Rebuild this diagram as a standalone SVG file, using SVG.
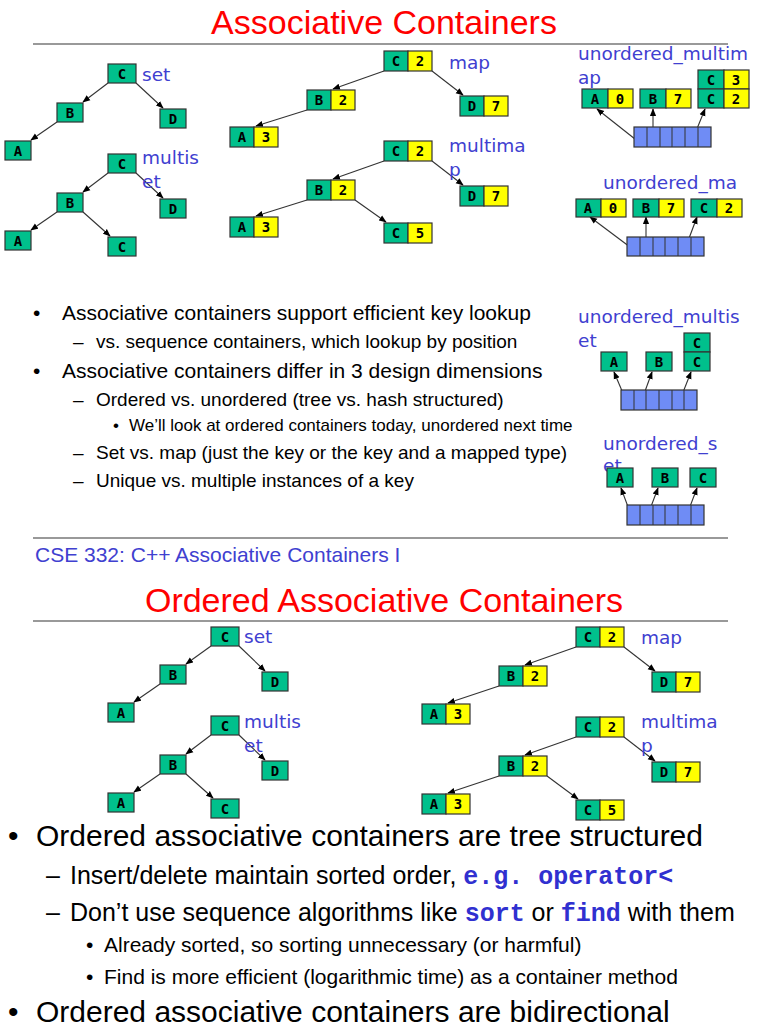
<svg xmlns="http://www.w3.org/2000/svg" width="768" height="1024" viewBox="0 0 768 1024">
<style>
.g{fill:#00c08c;stroke:#333;stroke-width:1.2}
.y{fill:#ffff00;stroke:#333;stroke-width:1.2}
.b{fill:#6f8cf5;stroke:#333;stroke-width:1.2}
.k{font-family:"DejaVu Sans Mono",monospace;font-weight:bold;font-size:14px;text-anchor:middle;fill:#000}
.lb{font-family:"DejaVu Sans",sans-serif;font-size:18.5px;fill:#4040d0}
.t{font-family:"Liberation Sans",Arial,sans-serif;fill:#000}
.red{font-family:"Liberation Sans",Arial,sans-serif;fill:#ff0000;font-size:34px;text-anchor:middle}
.c line{stroke:#333;stroke-width:1.1;marker-end:url(#a)}
.rule{stroke:#777;stroke-width:1.5}
</style>
<defs><marker id="a" viewBox="0 0 10 10" refX="9" refY="5" markerWidth="7" markerHeight="7" orient="auto"><path d="M0,1 L10,5 L0,9z" fill="#000"/></marker>
</defs>
<rect width="768" height="1024" fill="#fff"/>
<text class="red" x="384" y="34">Associative Containers</text>
<line class="rule" x1="33" y1="44" x2="728" y2="44"/>

<g class="c">
<line x1="108" y1="83" x2="83" y2="102"/><line x1="136" y1="83" x2="163" y2="108"/><line x1="57" y1="122" x2="31" y2="140"/>
<line x1="108" y1="173" x2="83" y2="192"/><line x1="136" y1="173" x2="163" y2="198"/><line x1="57" y1="212" x2="31" y2="230"/><line x1="83" y1="212" x2="110" y2="236"/>
<line x1="384" y1="71" x2="333" y2="89"/><line x1="432" y1="71" x2="463" y2="95"/><line x1="307" y1="110" x2="256" y2="126"/>
<line x1="384" y1="161" x2="333" y2="179"/><line x1="432" y1="161" x2="463" y2="185"/><line x1="307" y1="200" x2="256" y2="216"/><line x1="355" y1="200" x2="386" y2="222"/>
<line x1="640" y1="143" x2="597" y2="109"/><line x1="653" y1="141" x2="653" y2="109"/><line x1="692" y1="141" x2="705" y2="109"/>
<line x1="634" y1="250" x2="590" y2="217"/><line x1="646" y1="249" x2="646" y2="217"/><line x1="685" y1="249" x2="697" y2="217"/>
<line x1="628" y1="405" x2="614" y2="372"/><line x1="640" y1="405" x2="652" y2="372"/><line x1="678" y1="405" x2="691" y2="372"/>
<line x1="633" y1="520" x2="621" y2="488"/><line x1="646" y1="520" x2="658" y2="488"/><line x1="685" y1="520" x2="697" y2="488"/>
<line x1="211" y1="646" x2="186" y2="664"/><line x1="239" y1="646" x2="265" y2="671"/><line x1="160" y1="684" x2="134" y2="702"/>
<line x1="211" y1="735" x2="186" y2="754"/><line x1="239" y1="735" x2="265" y2="760"/><line x1="160" y1="774" x2="134" y2="792"/><line x1="186" y1="774" x2="213" y2="798"/>
<line x1="576" y1="647" x2="525" y2="665"/><line x1="624" y1="647" x2="655" y2="671"/><line x1="499" y1="686" x2="448" y2="703"/>
<line x1="576" y1="737" x2="525" y2="755"/><line x1="624" y1="737" x2="655" y2="761"/><line x1="499" y1="776" x2="448" y2="793"/><line x1="547" y1="776" x2="578" y2="799"/>
</g>

<g id="set1">
<rect class="g" x="108" y="64" width="28" height="19"/><text class="k" x="122" y="79">C</text>
<rect class="g" x="57" y="103" width="26" height="19"/><text class="k" x="70" y="118">B</text>
<rect class="g" x="160" y="109" width="26" height="19"/><text class="k" x="173" y="124">D</text>
<rect class="g" x="5" y="141" width="26" height="19"/><text class="k" x="18" y="156">A</text>
<text class="lb" x="142" y="81">set</text>
</g>
<g id="multiset1">
<rect class="g" x="108" y="154" width="28" height="19"/><text class="k" x="122" y="169">C</text>
<rect class="g" x="57" y="193" width="26" height="19"/><text class="k" x="70" y="208">B</text>
<rect class="g" x="160" y="199" width="26" height="19"/><text class="k" x="173" y="214">D</text>
<rect class="g" x="5" y="231" width="26" height="19"/><text class="k" x="18" y="246">A</text>
<rect class="g" x="108" y="237" width="28" height="19"/><text class="k" x="122" y="252">C</text>
<text class="lb" x="142" y="164">multis</text><text class="lb" x="142" y="188">et</text>
</g>
<g id="map1">
<rect class="g" x="384" y="51" width="24" height="20"/><rect class="y" x="408" y="51" width="24" height="20"/><text class="k" x="396" y="66">C</text><text class="k" x="420" y="66">2</text>
<rect class="g" x="307" y="90" width="24" height="20"/><rect class="y" x="331" y="90" width="24" height="20"/><text class="k" x="319" y="105">B</text><text class="k" x="343" y="105">2</text>
<rect class="g" x="460" y="96" width="24" height="20"/><rect class="y" x="484" y="96" width="24" height="20"/><text class="k" x="472" y="111">D</text><text class="k" x="496" y="111">7</text>
<rect class="g" x="230" y="127" width="24" height="20"/><rect class="y" x="254" y="127" width="24" height="20"/><text class="k" x="242" y="142">A</text><text class="k" x="266" y="142">3</text>
<text class="lb" x="449" y="69">map</text>
</g>
<g id="multimap1">
<rect class="g" x="384" y="141" width="24" height="20"/><rect class="y" x="408" y="141" width="24" height="20"/><text class="k" x="396" y="156">C</text><text class="k" x="420" y="156">2</text>
<rect class="g" x="307" y="180" width="24" height="20"/><rect class="y" x="331" y="180" width="24" height="20"/><text class="k" x="319" y="195">B</text><text class="k" x="343" y="195">2</text>
<rect class="g" x="460" y="186" width="24" height="20"/><rect class="y" x="484" y="186" width="24" height="20"/><text class="k" x="472" y="201">D</text><text class="k" x="496" y="201">7</text>
<rect class="g" x="230" y="217" width="24" height="20"/><rect class="y" x="254" y="217" width="24" height="20"/><text class="k" x="242" y="232">A</text><text class="k" x="266" y="232">3</text>
<rect class="g" x="384" y="223" width="24" height="20"/><rect class="y" x="408" y="223" width="24" height="20"/><text class="k" x="396" y="238">C</text><text class="k" x="420" y="238">5</text>
<text class="lb" x="449" y="152">multima</text><text class="lb" x="449" y="176">p</text>
</g>

<g id="umultimap">
<text class="lb" x="578" y="60">unordered_multim</text><text class="lb" x="578" y="84">ap</text>
<rect class="g" x="582" y="89" width="26" height="19"/><rect class="y" x="608" y="89" width="25" height="19"/><text class="k" x="595" y="104">A</text><text class="k" x="620" y="104">0</text>
<rect class="g" x="640" y="89" width="26" height="19"/><rect class="y" x="666" y="89" width="25" height="19"/><text class="k" x="653" y="104">B</text><text class="k" x="678" y="104">7</text>
<rect class="g" x="698" y="70" width="26" height="19"/><rect class="y" x="724" y="70" width="25" height="19"/><text class="k" x="711" y="85">C</text><text class="k" x="736" y="85">3</text>
<rect class="g" x="698" y="89" width="26" height="19"/><rect class="y" x="724" y="89" width="25" height="19"/><text class="k" x="711" y="104">C</text><text class="k" x="736" y="104">2</text>
<rect class="b" x="634" y="127" width="77" height="20"/>
<path d="M647,127V147M660,127V147M672,127V147M685,127V147M698,127V147" stroke="#333"/>
</g>
<g id="umap">
<text class="lb" x="603" y="189">unordered_ma</text>
<rect class="g" x="576" y="199" width="25" height="18"/><rect class="y" x="601" y="199" width="25" height="18"/><text class="k" x="588" y="213">A</text><text class="k" x="613" y="213">0</text>
<rect class="g" x="633" y="199" width="26" height="18"/><rect class="y" x="659" y="199" width="25" height="18"/><text class="k" x="646" y="213">B</text><text class="k" x="671" y="213">7</text>
<rect class="g" x="691" y="199" width="26" height="18"/><rect class="y" x="717" y="199" width="25" height="18"/><text class="k" x="704" y="213">C</text><text class="k" x="729" y="213">2</text>
<rect class="b" x="627" y="237" width="77" height="19"/>
<path d="M640,237V256M653,237V256M665,237V256M678,237V256M691,237V256" stroke="#333"/>
</g>
<g id="umultiset">
<text class="lb" x="578" y="323">unordered_multis</text><text class="lb" x="578" y="347">et</text>
<rect class="g" x="601" y="352" width="26" height="19"/><text class="k" x="614" y="367">A</text>
<rect class="g" x="646" y="352" width="26" height="19"/><text class="k" x="659" y="367">B</text>
<rect class="g" x="684" y="333" width="26" height="19"/><text class="k" x="697" y="348">C</text>
<rect class="g" x="684" y="352" width="26" height="19"/><text class="k" x="697" y="367">C</text>
<rect class="b" x="621" y="390" width="76" height="20"/>
<path d="M634,390V410M646,390V410M659,390V410M672,390V410M684,390V410" stroke="#333"/>
</g>
<g id="uset">
<text class="lb" x="603" y="450">unordered_s</text><text class="lb" x="603" y="472">et</text>
<rect class="g" x="607" y="468" width="26" height="19"/><text class="k" x="620" y="483">A</text>
<rect class="g" x="652" y="468" width="26" height="19"/><text class="k" x="665" y="483">B</text>
<rect class="g" x="690" y="468" width="26" height="19"/><text class="k" x="703" y="483">C</text>
<rect class="b" x="627" y="505" width="77" height="20"/>
<path d="M640,505V525M653,505V525M665,505V525M678,505V525M691,505V525" stroke="#333"/>
</g>

<g class="t" font-size="21">
<text x="33" y="320">•</text><text x="62" y="320">Associative containers support efficient key lookup</text>
<text x="33" y="378">•</text><text x="62" y="378">Associative containers differ in 3 design dimensions</text>
</g>
<g class="t" font-size="19">
<text x="73" y="348">–</text><text x="96" y="348">vs. sequence containers, which lookup by position</text>
<text x="73" y="406">–</text><text x="96" y="406">Ordered vs. unordered (tree vs. hash structured)</text>
<text x="73" y="459">–</text><text x="96" y="459">Set vs. map (just the key or the key and a mapped type)</text>
<text x="73" y="487">–</text><text x="96" y="487">Unique vs. multiple instances of a key</text>
</g>
<g class="t" font-size="17">
<text x="113" y="431">•</text><text x="129" y="431">We’ll look at ordered containers today, unordered next time</text>
</g>
<line class="rule" x1="33" y1="538" x2="728" y2="538"/>
<text x="35" y="562" font-family="Liberation Sans,Arial,sans-serif" font-size="21" fill="#4040d0">CSE 332: C++ Associative Containers I</text>

<text class="red" x="384" y="612">Ordered Associative Containers</text>
<line class="rule" x1="33" y1="621" x2="728" y2="621"/>

<g id="set2">
<rect class="g" x="211" y="627" width="28" height="19"/><text class="k" x="225" y="642">C</text>
<rect class="g" x="160" y="665" width="26" height="19"/><text class="k" x="173" y="680">B</text>
<rect class="g" x="262" y="672" width="26" height="19"/><text class="k" x="275" y="687">D</text>
<rect class="g" x="108" y="703" width="26" height="19"/><text class="k" x="121" y="718">A</text>
<text class="lb" x="244" y="643">set</text>
</g>
<g id="multiset2">
<rect class="g" x="211" y="716" width="28" height="19"/><text class="k" x="225" y="731">C</text>
<rect class="g" x="160" y="755" width="26" height="19"/><text class="k" x="173" y="770">B</text>
<rect class="g" x="262" y="761" width="26" height="19"/><text class="k" x="275" y="776">D</text>
<rect class="g" x="108" y="793" width="26" height="19"/><text class="k" x="121" y="808">A</text>
<rect class="g" x="211" y="799" width="28" height="19"/><text class="k" x="225" y="814">C</text>
<text class="lb" x="244" y="728">multis</text><text class="lb" x="244" y="752">et</text>
</g>
<g id="map2">
<rect class="g" x="576" y="627" width="24" height="20"/><rect class="y" x="600" y="627" width="24" height="20"/><text class="k" x="588" y="642">C</text><text class="k" x="612" y="642">2</text>
<rect class="g" x="499" y="666" width="24" height="20"/><rect class="y" x="523" y="666" width="24" height="20"/><text class="k" x="511" y="681">B</text><text class="k" x="535" y="681">2</text>
<rect class="g" x="652" y="672" width="24" height="20"/><rect class="y" x="676" y="672" width="24" height="20"/><text class="k" x="664" y="687">D</text><text class="k" x="688" y="687">7</text>
<rect class="g" x="422" y="704" width="24" height="20"/><rect class="y" x="446" y="704" width="24" height="20"/><text class="k" x="434" y="719">A</text><text class="k" x="458" y="719">3</text>
<text class="lb" x="641" y="644">map</text>
</g>
<g id="multimap2">
<rect class="g" x="576" y="717" width="24" height="20"/><rect class="y" x="600" y="717" width="24" height="20"/><text class="k" x="588" y="732">C</text><text class="k" x="612" y="732">2</text>
<rect class="g" x="499" y="756" width="24" height="20"/><rect class="y" x="523" y="756" width="24" height="20"/><text class="k" x="511" y="771">B</text><text class="k" x="535" y="771">2</text>
<rect class="g" x="652" y="762" width="24" height="20"/><rect class="y" x="676" y="762" width="24" height="20"/><text class="k" x="664" y="777">D</text><text class="k" x="688" y="777">7</text>
<rect class="g" x="422" y="794" width="24" height="20"/><rect class="y" x="446" y="794" width="24" height="20"/><text class="k" x="434" y="809">A</text><text class="k" x="458" y="809">3</text>
<rect class="g" x="576" y="800" width="24" height="20"/><rect class="y" x="600" y="800" width="24" height="20"/><text class="k" x="588" y="815">C</text><text class="k" x="612" y="815">5</text>
<text class="lb" x="641" y="728">multima</text><text class="lb" x="641" y="752">p</text>
</g>

<g class="t">
<text x="8" y="846" font-size="30">•</text><text x="36" y="846" font-size="30">Ordered associative containers are tree structured</text>
<text x="46" y="884" font-size="25">–</text><text x="70" y="884" font-size="25">Insert/delete maintain sorted order, <tspan font-family="Liberation Mono,monospace" font-weight="bold" fill="#3030d0">e.g. operator&lt;</tspan></text>
<text x="46" y="921" font-size="25">–</text><text x="70" y="921" font-size="25">Don’t use sequence algorithms like <tspan font-family="Liberation Mono,monospace" font-weight="bold" fill="#3030d0">sort</tspan> or <tspan font-family="Liberation Mono,monospace" font-weight="bold" fill="#3030d0">find</tspan> with them</text>
<text x="86" y="952" font-size="21">•</text><text x="104" y="952" font-size="21">Already sorted, so sorting unnecessary (or harmful)</text>
<text x="86" y="984" font-size="21">•</text><text x="104" y="984" font-size="21">Find is more efficient (logarithmic time) as a container method</text>
<text x="8" y="1022" font-size="30">•</text><text x="36" y="1022" font-size="30">Ordered associative containers are bidirectional</text>
</g>
</svg>
